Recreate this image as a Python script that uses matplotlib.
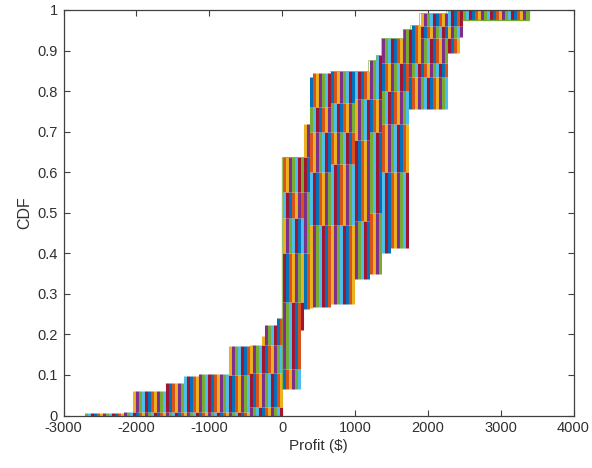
import matplotlib
matplotlib.use("Agg")
import matplotlib.pyplot as plt
import numpy as np

plt.rcParams['font.family'] = ['Liberation Sans', 'DejaVu Sans']
plt.rcParams['axes.unicode_minus'] = False

stripe_colors = ['#0072BD', '#D95319', '#EDB120', '#7E2F8E', '#77AC30', '#4DBEEE', '#A2142F']
stripe_step = 41.18

# column left/right edges in dollars, CDF levels from the bottom to the top of each column
col_x0 = [-2700, -2200, -2050, -1600, -1350, -1150, -750, -450, -300, -250, -100,
          0, 250, 300, 375, 430, 658, 1000, 1185, 1290, 1358, 1500, 1655,
          1742, 1756, 1875, 2210, 2250, 2440, 2470]
col_x1 = [-2200, -2050, -1600, -1350, -1150, -750, -450, -300, -250, -100, 0,
          250, 300, 375, 430, 658, 1000, 1185, 1290, 1358, 1500, 1655, 1742,
          1756, 1875, 2210, 2250, 2440, 2470, 3393]
col_levels = [
    [0, .005],
    [0, .008],
    [0, .008, .06],
    [0, .008, .08],
    [0, .008, .097],
    [0, .008, .103],
    [0, .008, .10, .172],
    [0, .02, .105, .175],
    [0, .02, .105, .175, .197],
    [0, .02, .105, .175, .222],
    [0, .02, .105, .175, .24],
    [.065, .115, .28, .40, .486, .55, .637],
    [.21, .28, .40, .486, .55, .637],
    [.262, .40, .55, .637, .72],
    [.265, .47, .60, .70, .76, .835],
    [.268, .47, .60, .70, .76, .845],
    [.274, .47, .62, .70, .77, .85],
    [.336, .48, .68, .78, .85],
    [.35, .50, .70, .78, .877],
    [.35, .50, .70, .78, .889],
    [.40, .60, .72, .80, .87, .93],
    [.412, .60, .72, .80, .87, .93],
    [.412, .60, .72, .80, .87, .953],
    [.755, .835, .87, .953],
    [.755, .835, .87, .963],
    [.755, .835, .87, .93, .96, .993],
    [.755, .835, .87, .93, .96, .993],
    [.893, .93, .96, 1.0],
    [.933, .96, 1.0],
    [.975, 1.0],
]

fig = plt.figure(figsize=(5.92, 4.68), dpi=100)
ax = fig.add_axes([63.5 / 592, 1 - 415.5 / 468, 510 / 592, 405.5 / 468])

for x0, x1, levels in zip(col_x0, col_x1, col_levels):
    first = int(round(x0 / stripe_step))
    last = int(round(x1 / stripe_step))
    for k in range(first, last):
        for row in range(len(levels) - 1):
            ax.vlines((k + 0.5) * stripe_step, levels[row], levels[row + 1],
                      color=stripe_colors[(k + 3 * row) % 7], lw=2.2, capstyle='butt')

top_x = [658, 1185, 1290, 1358, 1655, 1756, 1875, 2250, 3393]
top_y = [.85, .877, .889, .93, .953, .963, .993, 1.0, 1.0]
ax.step(top_x, top_y, where='post', color='#77AC30', lw=0.6, alpha=.7)
ax.vlines(2, .065, .637, color='#77AC30', lw=1.0, alpha=.7)
ax.hlines(.637, 0, 300, color='#77AC30', lw=0.8, alpha=.8)
ax.hlines(.975, 2470, 3393, color='#77AC30', lw=0.9)
ax.vlines(3393, .975, 1.0, color='#77AC30', lw=0.9)

ax.set_xlim(-3000, 4000)
ax.set_ylim(0, 1)
ax.set_xticks(np.arange(-3000, 4001, 1000))
ax.set_yticks(np.arange(0, 1.01, .1))
ax.set_yticklabels(['0', '0.1', '0.2', '0.3', '0.4', '0.5', '0.6', '0.7', '0.8', '0.9', '1'])
ax.tick_params(direction='in', length=4, width=0.8, color='#404040', labelcolor='#303030',
               labelsize=10.5, top=True, right=True, pad=4)
for s in ax.spines.values():
    s.set_color('#404040')
    s.set_linewidth(0.9)
ax.set_xlabel('Profit ($)', fontsize=11, color='#303030', labelpad=3)
ax.set_ylabel('CDF', fontsize=11.5, color='#303030', labelpad=4)

fig.savefig('out.png', dpi=100)
